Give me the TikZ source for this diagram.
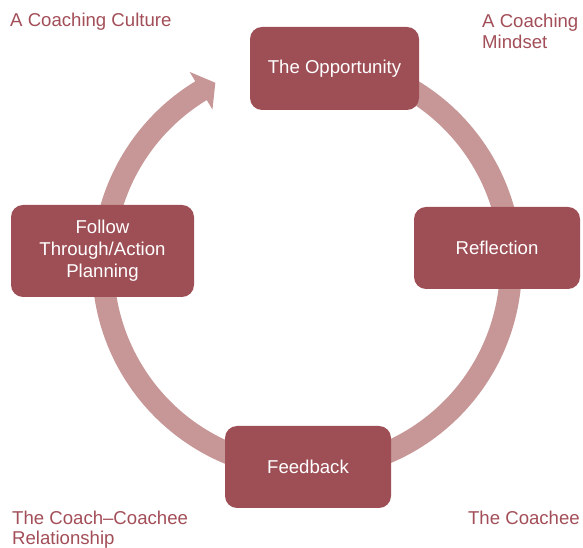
\documentclass[tikz,border=0pt]{standalone}
\usepackage{fontspec}
\setmainfont{Liberation Sans}
\definecolor{boxred}{HTML}{9E4F56}
\definecolor{ringpink}{HTML}{C79797}
\definecolor{labelred}{HTML}{A24E58}
\begin{document}
\begin{tikzpicture}[x=1pt,y=1pt,
  stagebox/.style={fill=boxred, draw=none, rounded corners=12pt, text=white,
    align=center, inner sep=0pt, font=\fontsize{18.6}{22}\selectfont},
  cornerlabel/.style={text=labelred, inner sep=0pt, align=left,
    font=\fontsize{18.6}{20.5}\selectfont}]
\useasboundingbox (0,0) rectangle (583,548);
\coordinate (ring) at (307,283);
% circular arrow running clockwise from the top stage round to its own head
\fill[ringpink, shift={(ring)}]
  (90:193) -- (90:215)
  arc[start angle=90, end angle=-238.7, radius=215pt]
  -- (-238.7:226) -- (-243.3:204) -- (-238.7:182) -- (-238.7:193)
  arc[start angle=-238.7, end angle=90, radius=193pt] -- cycle;
% the four stages
\node[stagebox, minimum width=169pt, minimum height=83pt] (opp) at (334.5,479.5) {The Opportunity};
\node[stagebox, minimum width=166pt, minimum height=82pt] (refl) at (497,300) {Reflection};
\node[stagebox, minimum width=166pt, minimum height=82pt] (feed) at (308,81) {Feedback};
\node[stagebox, minimum width=183pt, minimum height=92pt] (follow) at (102.5,297) {Follow\\Through/Action\\Planning};
% corner labels (base anchor sits on the last line)
\node[cornerlabel, anchor=base west] (culture) at (10,521) {A Coaching Culture};
\node[cornerlabel, anchor=base west] (mindset) at (482,499.5) {A Coaching\\Mindset};
\node[cornerlabel, anchor=base west] (relation) at (12,3) {The Coach–Coachee\\Relationship};
\node[cornerlabel, anchor=base east] (coachee) at (580,23) {The Coachee};
\end{tikzpicture}
\end{document}
